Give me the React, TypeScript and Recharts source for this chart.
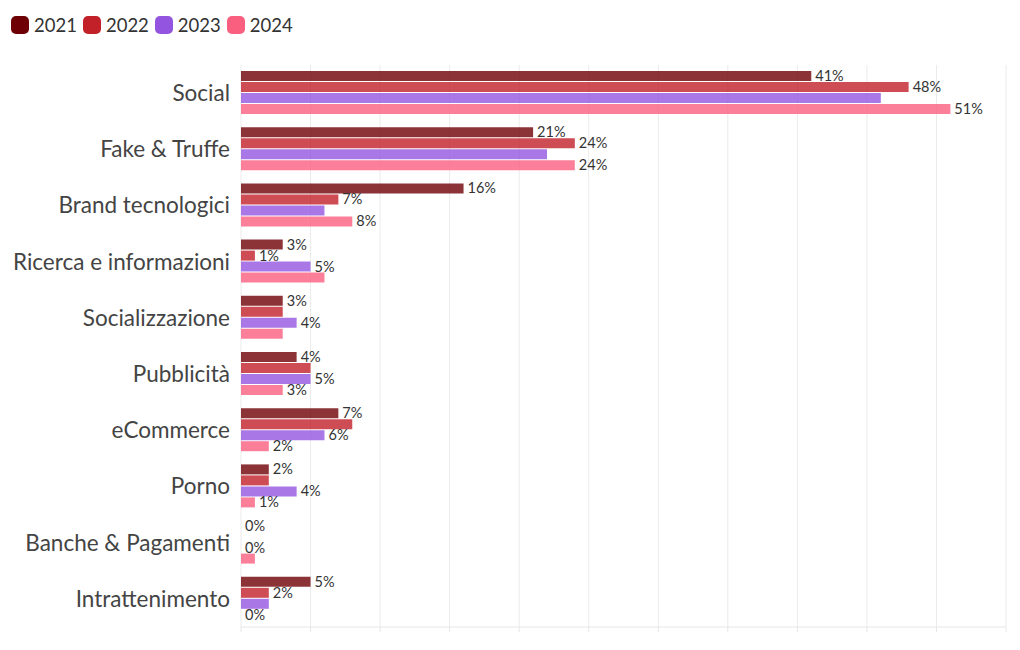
import React from "react";
import { BarChart, Bar, XAxis, YAxis, CartesianGrid, LabelList } from "recharts";

const categories = [
  "Social",
  "Fake & Truffe",
  "Brand tecnologici",
  "Ricerca e informazioni",
  "Socializzazione",
  "Pubblicità",
  "eCommerce",
  "Porno",
  "Banche & Pagamenti",
  "Intrattenimento",
];

const years = ["2021", "2022", "2023", "2024"];

const values2021 = [41, 21, 16, 3, 3, 4, 7, 2, 0, 5];
const values2022 = [48, 24, 7, 1, 3, 5, 8, 2, 0, 2];
const values2023 = [46, 22, 6, 5, 4, 5, 6, 4, 0, 2];
const values2024 = [51, 24, 8, 6, 3, 3, 2, 1, 1, 0];

// which value labels are visible (the rest were hidden to avoid overlap)
const shown2021 = [1, 1, 1, 1, 1, 1, 1, 1, 1, 1];
const shown2022 = [1, 1, 1, 1, 0, 0, 0, 0, 0, 1];
const shown2023 = [0, 0, 0, 1, 1, 1, 1, 1, 1, 0];
const shown2024 = [1, 1, 1, 0, 0, 1, 1, 1, 0, 1];

const xTicks = [0, 5, 10, 15, 20, 25, 30, 35, 40, 45, 50, 55];

const legendColors = ["#6e0005", "#c2212a", "#9355e0", "#fa5f80"];

const seriesValues = [values2021, values2022, values2023, values2024];
const seriesShown = [shown2021, shown2022, shown2023, shown2024];

const data = categories.map((name, i) => {
  const row: any = { name };
  years.forEach((y, s) => {
    row[y] = seriesValues[s][i];
  });
  return row;
});

const FONT = "Lato, 'Noto Sans', sans-serif";

function makeLabel(s: number) {
  return (props: any) => {
    const { x, y, width, height, value, index } = props;
    if (!seriesShown[s][index]) return null;
    return (
      <text
        x={Number(x) + Number(width || 0) + 4}
        y={Number(y) + Number(height) / 2}
        dy={5}
        fontSize={14.5}
        fill="#333"
        fontFamily={FONT}
      >
        {value}%
      </text>
    );
  };
}

export default function App() {
  return (
    <div style={{ position: "absolute", left: 0, top: 0, width: 1020, height: 650, background: "#fff" }}>
      <div
        style={{
          position: "absolute",
          left: 11,
          top: 14,
          display: "flex",
          alignItems: "center",
          fontFamily: FONT,
          fontSize: 18.5,
          color: "#333",
        }}
      >
        {years.map((y, i) => (
          <div key={y} style={{ display: "flex", alignItems: "center", marginRight: 6 }}>
            <span
              style={{
                display: "inline-block",
                width: 18,
                height: 18,
                borderRadius: 5,
                background: legendColors[i],
                marginRight: 5,
              }}
            />
            <span>{y}</span>
          </div>
        ))}
      </div>
      <BarChart
        width={1020}
        height={650}
        data={data}
        layout="vertical"
        margin={{ top: 65, right: 14, bottom: 13, left: 0 }}
        barCategoryGap={6}
        barGap={1}
      >
        <CartesianGrid horizontal={false} stroke="#ebebeb" />
        <XAxis
          type="number"
          domain={[0, 55]}
          ticks={xTicks}
          tickFormatter={() => ""}
          height={10}
          stroke="#e6e6e6"
          tickSize={5}
        />
        <YAxis
          type="category"
          dataKey="name"
          width={241}
          axisLine={false}
          tickLine={false}
          tickSize={0}
          tickMargin={11}
          tick={{ fontSize: 22.5, fill: "#444", fontFamily: FONT }}
        />
        {years.map((y, s) => (
          <Bar
            key={y}
            dataKey={y}
            fill={legendColors[s]}
            fillOpacity={0.8}
            minPointSize={0.01}
            isAnimationActive={false}
          >
            <LabelList dataKey={y} content={makeLabel(s)} />
          </Bar>
        ))}
      </BarChart>
    </div>
  );
}
